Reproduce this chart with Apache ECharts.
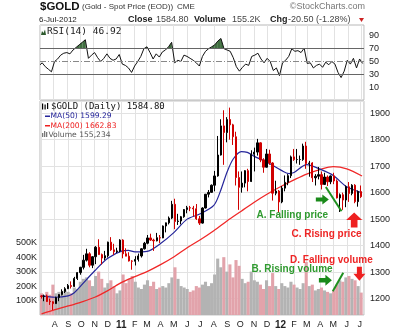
<!DOCTYPE html>
<html><head><meta charset="utf-8">
<script src="https://cdn.jsdelivr.net/npm/echarts@6/dist/echarts.min.js"></script>
<style>html,body{margin:0;padding:0;background:#fff}#c{width:400px;height:330px}</style>
</head><body><div id="c"></div>
<script>
const weeks = ['2010-07-02',
'2010-07-07','2010-07-14','2010-07-21','2010-07-28',
'2010-08-04','2010-08-11','2010-08-18','2010-08-25',
'2010-09-01','2010-09-08','2010-09-15','2010-09-22','2010-09-29',
'2010-10-06','2010-10-13','2010-10-20','2010-10-27',
'2010-11-03','2010-11-10','2010-11-17','2010-11-24',
'2010-12-01','2010-12-08','2010-12-15','2010-12-22','2010-12-29',
'2011-01-05','2011-01-12','2011-01-19','2011-01-26',
'2011-02-02','2011-02-09','2011-02-16','2011-02-23',
'2011-03-02','2011-03-09','2011-03-16','2011-03-23','2011-03-30',
'2011-04-06','2011-04-13','2011-04-20','2011-04-27',
'2011-05-04','2011-05-11','2011-05-18','2011-05-25',
'2011-06-01','2011-06-08','2011-06-15','2011-06-22','2011-06-29',
'2011-07-06','2011-07-13','2011-07-20','2011-07-27',
'2011-08-03','2011-08-10','2011-08-17','2011-08-24','2011-08-31',
'2011-09-07','2011-09-14','2011-09-21','2011-09-28',
'2011-10-05','2011-10-12','2011-10-19','2011-10-26',
'2011-11-02','2011-11-09','2011-11-16','2011-11-23','2011-11-30',
'2011-12-07','2011-12-14','2011-12-21','2011-12-28',
'2012-01-04','2012-01-11','2012-01-18','2012-01-25',
'2012-02-01','2012-02-08','2012-02-15','2012-02-22','2012-02-29',
'2012-03-07','2012-03-14','2012-03-21','2012-03-28',
'2012-04-04','2012-04-11','2012-04-18','2012-04-25',
'2012-05-02','2012-05-09','2012-05-16','2012-05-23','2012-05-30',
'2012-06-06','2012-06-13','2012-06-20','2012-06-27',
'2012-07-04'];

const opens = [1210,
1208,1210,1190,1188, 1181,1204,1215,1227, 1237,1249,1246,1276,1298, 1318,1345,1369,1326, 1358,1394,1366,1353, 1362,1413,1384,1377,1380,
1421,1369,1360,1342, 1341,1348,1361,1388, 1409,1429,1421,1418,1430, 1429,1474,1486,1504, 1556,1491,1493,1509, 1536,1543,1542,1539,1501,
1485,1542,1594,1601, 1628,1663,1742,1852,1827, 1876,1856,1811,1657, 1620,1636,1683,1642, 1745,1753,1788,1724,1696, 1746,1712,1598,1606,
1565,1617,1639,1664, 1735,1725,1725,1725,1776, 1710,1712,1656,1662, 1668,1631,1659,1641, 1663,1644,1580,1592,1572, 1622,1597,1628,1566,
1604];
const highs = [1213,
1215,1215,1200,1190, 1207,1217,1235,1243, 1255,1265,1282,1300,1320, 1365,1388,1375,1360, 1398,1424,1370,1380, 1415,1432,1407,1392,1424,
1424,1390,1375,1345, 1360,1370,1390,1414, 1440,1445,1426,1448,1440, 1476,1487,1510,1569, 1577,1520,1512,1538, 1550,1550,1550,1557,1512,
1545,1595,1610,1631, 1682,1814,1877,1911,1885, 1921,1860,1830,1680, 1680,1685,1690,1760, 1770,1803,1790,1730,1765, 1762,1715,1645,1610,
1625,1665,1670,1740, 1765,1765,1740,1785,1792, 1720,1715,1670,1697, 1680,1675,1665,1665, 1675,1650,1597,1600,1627, 1640,1632,1632,1608,
1627];
const lows = [1200,
1190,1187,1176,1157, 1180,1190,1212,1221, 1236,1238,1244,1270,1290, 1310,1340,1318,1315, 1330,1365,1329,1345, 1355,1380,1365,1372,1375,
1352,1360,1340,1309, 1325,1340,1355,1385, 1405,1418,1380,1416,1410, 1428,1450,1480,1500, 1462,1478,1480,1505, 1522,1530,1510,1497,1478,
1483,1540,1582,1600, 1605,1660,1740,1705,1790, 1800,1780,1627,1535, 1600,1620,1605,1640, 1680,1740,1715,1675,1695, 1705,1570,1590,1523,
1560,1605,1628,1655, 1720,1710,1705,1720,1690, 1660,1640,1627,1650, 1612,1630,1625,1632, 1632,1578,1527,1535,1545, 1565,1590,1560,1547,
1580];
const closes = [1208,
1210,1189,1188,1181, 1204,1215,1227,1237, 1249,1246,1276,1298,1318, 1345,1369,1326,1358, 1394,1366,1353,1362, 1413,1384,1377,1380,1421,
1369,1360,1342,1341, 1348,1361,1388,1409, 1429,1421,1418,1430,1429, 1474,1486,1504,1556, 1491,1493,1509,1536, 1543,1542,1539,1501,1485,
1542,1594,1601,1628, 1663,1742,1852,1827,1876, 1856,1811,1657,1620, 1636,1683,1642,1745, 1753,1788,1724,1696,1746, 1712,1598,1606,1565,
1617,1639,1664,1735, 1725,1725,1725,1776,1710, 1712,1656,1662,1668, 1631,1659,1641,1663, 1644,1580,1592,1572,1622, 1597,1628,1566,1604,
1584.8];
// daily volume, thousands
const volumes = [150,
130,160,140,210, 150,160,140,170, 160,150,190,180,230, 250,260,240,200, 270,300,250,190, 220,240,200,150,170,
280,220,250,270, 230,190,180,210, 240,200,230,180,190, 200,190,220,260, 330,250,200,190, 180,160,170,200,190,
210,230,200,220, 280,390,330,400,300, 350,260,380,340, 250,220,230,300, 240,230,210,180,240, 200,290,200,180,
220,200,190,230, 210,190,180,220,367, 200,210,170,180, 190,170,160,150, 170,210,240,230,260, 270,250,240,200,
155];
const rsi = [45,
48,42,38,34, 50,54,60,63, 64,62,68,72,76, 80,84,55,60, 64,56,50,55, 62,55,52,54,61,
46,44,40,33, 43,50,58,70, 73,64,54,62,57, 65,68,73,80, 48,52,50,60, 58,55,52,48,43,
58,66,70,73, 76,82,86,70,68, 66,56,42,35, 41,46,44,58, 60,63,54,48,55, 50,36,40,28,
48,52,58,70, 66,67,64,71,47, 48,40,44,46, 41,49,45,50, 46,33,25,35,52, 46,55,40,54,
46.92];

const ma50Dates = ['2010-07-02','2010-08-02','2010-09-01','2010-09-15','2010-10-01','2010-11-01','2010-12-01','2011-01-03','2011-01-17','2011-02-01','2011-03-01','2011-04-01','2011-05-02','2011-06-01','2011-07-01','2011-08-01','2011-08-15','2011-09-01','2011-09-15','2011-10-03','2011-10-17','2011-11-01','2011-12-01','2012-01-03','2012-01-20','2012-02-01','2012-03-01','2012-04-02','2012-05-01','2012-06-01','2012-07-06'];
const ma50Values = [1210,1205,1210,1222,1250,1305,1352,1380,1382,1376,1378,1408,1450,1500,1520,1552,1600,1680,1728,1755,1752,1738,1715,1684,1672,1676,1706,1688,1665,1622,1599.29];
const ma200Dates = ['2010-07-02','2010-08-02','2010-09-01','2010-10-01','2010-11-01','2010-12-01','2011-01-03','2011-02-01','2011-03-01','2011-04-01','2011-05-02','2011-06-01','2011-07-01','2011-08-01','2011-09-01','2011-10-03','2011-11-01','2011-12-01','2012-01-03','2012-02-01','2012-03-01','2012-04-02','2012-05-01','2012-06-01','2012-07-06'];
const ma200Values = [1142,1158,1172,1187,1205,1230,1262,1283,1302,1328,1358,1392,1422,1456,1494,1530,1563,1594,1624,1648,1670,1688,1698,1690,1662.83];

const monthLabels = ['A','S','O','N','D','11','F','M','A','M','J','J','A','S','O','N','D','12','F','M','A','M','J','J'];
const priceTicks = [1200,1300,1400,1500,1600,1700,1800,1900];
const rsiTicks = [10,30,50,70,90];
const volTicks = [100,200,300,400,500];

// annotations (date, value)
const priceFallLine = [['2012-04-14',1621],['2012-05-20',1530]];
const priceRiseLine = [['2012-05-15',1528],['2012-07-14',1568]];
const volRiseLine = [['2012-04-30',165],['2012-05-24',292]];
const volFallLine = [['2012-05-27',292],['2012-07-11',156]];
const greenPriceArrow = ['2012-04-06',1574];
const redPriceArrow = ['2012-06-18',1497];
const greenVolArrow = ['2012-04-13',240];
const redVolArrow = ['2012-06-30',286];

const T = s => { const p = s.split('-').map(Number); return new Date(p[0], p[1]-1, p[2]).getTime(); };
const xMin = T('2010-07-02'), xMax = T('2012-07-07');
const rsiData = weeks.map((w,i)=>[T(w), rsi[i]]);

const chart = echarts.init(document.getElementById('c'), null, {renderer:'canvas'});
const lblFont = 'Liberation Sans';
const monthFmt = v => { const d = new Date(v); if (d.getDate() !== 1) return ''; const k = (d.getFullYear()-2010)*12 + d.getMonth() - 7; const s = monthLabels[k]; if (s === undefined) return ''; return d.getMonth()===0 ? '{b|'+s+'}' : s; };
const xCommon = { type:'time', min:xMin, max:xMax, minInterval:28*864e5, maxInterval:31*864e5, splitNumber:24,
  axisTick:{show:false}, axisLine:{show:false},
  splitLine:{show:true, lineStyle:{color:'#e2e2e2', width:1}} };

const arrowRight = 'path://M0,3 L6,3 L6,0 L12,5 L6,10 L6,7 L0,7 Z';
const arrowUp = 'path://M6,0 L12,6 L8.5,6 L8.5,12 L3.5,12 L3.5,6 L0,6 Z';
const arrowDown = 'path://M3.5,0 L8.5,0 L8.5,6 L12,6 L6,12 L0,6 L3.5,6 Z';
const mlLine = pts => [{coord:[T(pts[0][0]), pts[0][1]]},{coord:[T(pts[1][0]), pts[1][1]]}];

const G = (el) => Object.assign({z:100}, el);
const txt = (x, y, text, font, fill, extra) => G({type:'text', x, y, style:Object.assign({text, font, fill, verticalAlign:'middle', textVerticalAlign:'middle'}, extra||{})});

const option = {
  animation:false,
  grid:[
    {left:40, right:36, top:25, height:75, show:true, borderColor:'#b8b8b8', borderWidth:1},
    {left:40, right:36, top:101, height:215, show:true, borderColor:'#b8b8b8', borderWidth:1}
  ],
  xAxis:[
    Object.assign({gridIndex:0, axisLabel:{show:false}}, xCommon),
    Object.assign({gridIndex:1, axisLabel:{show:true, formatter:monthFmt, color:'#222', fontFamily:lblFont, fontSize:9, margin:5,
      rich:{b:{fontWeight:'bold', fontSize:10, fontFamily:lblFont, color:'#222'}}, hideOverlap:false}}, xCommon)
  ],
  yAxis:[
    {gridIndex:0, type:'value', position:'right', min:-10, max:107, interval:20,
     axisLine:{show:false}, axisTick:{show:false}, splitLine:{show:false},
     axisLabel:{formatter:v=>rsiTicks.includes(v)?String(v):'', color:'#222', fontFamily:lblFont, fontSize:9, margin:5}},
    {gridIndex:1, type:'value', position:'right', min:1138, max:1946, splitNumber:8,
     axisLine:{show:false}, axisTick:{show:false},
     splitLine:{show:true, lineStyle:{color:'#e2e2e2'}},
     axisLabel:{formatter:v=>priceTicks.includes(v)?String(v):'', color:'#222', fontFamily:lblFont, fontSize:9, margin:6}},
    {gridIndex:1, type:'value', position:'left', min:0, max:1480, interval:100,
     axisLine:{show:false}, axisTick:{show:false}, splitLine:{show:false},
     axisLabel:{formatter:v=>volTicks.includes(v)?v+'K':'', color:'#222', fontFamily:lblFont, fontSize:9, margin:3}}
  ],
  series:[
    {type:'custom', xAxisIndex:0, yAxisIndex:0, silent:true, z:2, data:[[xMin,50]],
     renderItem:function(params, api){
       const children=[];
       for(let i=0;i<rsiData.length-1;i++){
         const t1=rsiData[i][0], v1=rsiData[i][1], t2=rsiData[i+1][0], v2=rsiData[i+1][1];
         if(v1<=70 && v2<=70) continue;
         let a=[t1,v1], b=[t2,v2];
         if(v1<70){const f=(70-v1)/(v2-v1); a=[t1+f*(t2-t1),70];}
         if(v2<70){const f=(70-v1)/(v2-v1); b=[t1+f*(t2-t1),70];}
         children.push({type:'polygon', shape:{points:[api.coord(a),api.coord(b),api.coord([b[0],70]),api.coord([a[0],70])]}, style:{fill:'#3f6e3f'}});
       }
       return {type:'group', children};
     }},
    {type:'line', xAxisIndex:0, yAxisIndex:0, data:rsiData, symbol:'none', z:3,
     lineStyle:{color:'#111', width:1},
     markLine:{silent:true, symbol:'none', label:{show:false}, data:[
       {yAxis:70, lineStyle:{color:'#666', width:1, type:'solid'}},
       {yAxis:30, lineStyle:{color:'#666', width:1, type:'solid'}},
       {yAxis:50, lineStyle:{color:'#888', width:1, type:[6,2,1,2]}}
     ]}},
    {type:'bar', xAxisIndex:1, yAxisIndex:2, barWidth:3.1, z:1,
     data:weeks.map((w,i)=>({value:[T(w), volumes[i]], itemStyle:{color: closes[i]>=opens[i] ? '#b3b3b3' : '#e2a3ab'}})),
     markLine:{silent:true, symbol:'none', label:{show:false}, data:[
       mlLine(volRiseLine), mlLine(volFallLine)
     ].map((d,k)=>{ d[0].lineStyle={color: k===0?'#1f8f1f':'#ee2020', width:2, type:'solid'}; return d; })},
     markPoint:{silent:true, label:{show:false}, data:[
       {coord:[T(greenVolArrow[0]), greenVolArrow[1]], symbol:arrowRight, symbolSize:[13,11], itemStyle:{color:'#1a8a1a'}},
       {coord:[T(redVolArrow[0]), redVolArrow[1]], symbol:arrowDown, symbolSize:[12,14], itemStyle:{color:'#ee2020'}}
     ]}},
    {type:'line', xAxisIndex:1, yAxisIndex:1, data:ma200Dates.map((d,i)=>[T(d), ma200Values[i]]), symbol:'none', smooth:0.3, z:3,
     lineStyle:{color:'#f02828', width:1.3}},
    {type:'line', xAxisIndex:1, yAxisIndex:1, data:ma50Dates.map((d,i)=>[T(d), ma50Values[i]]), symbol:'none', smooth:0.3, z:3,
     lineStyle:{color:'#25259a', width:1.2},
     markLine:{silent:true, symbol:'none', label:{show:false}, data:[
       mlLine(priceFallLine), mlLine(priceRiseLine)
     ].map((d,k)=>{ d[0].lineStyle={color: k===0?'#1f8f1f':'#ee2020', width:2, type:'solid'}; return d; })},
     markPoint:{silent:true, label:{show:false}, data:[
       {coord:[T(greenPriceArrow[0]), greenPriceArrow[1]], symbol:arrowRight, symbolSize:[13,10], itemStyle:{color:'#1a8a1a'}},
       {coord:[T(redPriceArrow[0]), redPriceArrow[1]], symbol:arrowUp, symbolSize:[16,15], itemStyle:{color:'#ee2020'}}
     ]}},
    {type:'candlestick', xAxisIndex:1, yAxisIndex:1, barWidth:1.8, z:4,
     encode:{x:0, y:[1,2,3,4]},
     data:weeks.map((w,i)=>[T(w), opens[i], closes[i], lows[i], highs[i]]),
     itemStyle:{color:'#000', color0:'#d00000', borderColor:'#000', borderColor0:'#d00000', borderWidth:1}}
  ],
  graphic:{elements:[
    txt(40, 7, '$GOLD', 'bold 11.5px "Liberation Sans"', '#111'),
    txt(82, 7, '(Gold - Spot Price (EOD))', '8px "Liberation Sans"', '#333'),
    txt(177, 7, 'CME', '8px "Liberation Sans"', '#333'),
    txt(365, 7, '©StockCharts.com', '9px "Liberation Sans"', '#777', {align:'right', textAlign:'right'}),
    txt(39, 20, '6-Jul-2012', '8px "Liberation Sans"', '#222'),
    txt(128, 20, 'Close', 'bold 9px "Liberation Sans"', '#222'),
    txt(156, 20, '1584.80', '9px "Liberation Sans"', '#444'),
    txt(194, 20, 'Volume', 'bold 9px "Liberation Sans"', '#222'),
    txt(232, 20, '155.2K', '9px "Liberation Sans"', '#444'),
    txt(270, 20, 'Chg', 'bold 9px "Liberation Sans"', '#222'),
    txt(288, 20, '-20.50 (-1.28%)', '9px "Liberation Sans"', '#444'),
    G({type:'polygon', shape:{points:[[359,18],[364,18],[361.5,22]]}, style:{fill:'#cc2222'}}),
    // RSI legend
    G({type:'polygon', shape:{points:[[41,35],[42,31],[43.5,33],[45,29.5],[46,35]]}, style:{fill:'#2d5a2d'}}),
    txt(47, 32, 'RSI(14) 46.92', '9.5px "DejaVu Sans Mono"', '#222'),
    // price legend
    G({type:'rect', shape:{x:42, y:103.5, width:1.2, height:6}, style:{fill:'#000'}}),
    G({type:'rect', shape:{x:44.5, y:104.5, width:1.2, height:5}, style:{fill:'#000'}}),
    G({type:'rect', shape:{x:47, y:103, width:1.2, height:6}, style:{fill:'#000'}}),
    txt(51, 107, '$GOLD (Daily) 1584.80', '9px "DejaVu Sans Mono"', '#111'),
    G({type:'rect', shape:{x:45, y:115.5, width:5, height:1.5}, style:{fill:'#25259a'}}),
    txt(50.5, 116.5, 'MA(50) 1599.29', '7.6px "DejaVu Sans"', '#25259a'),
    G({type:'rect', shape:{x:45, y:125, width:5, height:1.5}, style:{fill:'#ee2020'}}),
    txt(50.5, 126, 'MA(200) 1662.83', '7.6px "DejaVu Sans"', '#ee2020'),
    G({type:'rect', shape:{x:42, y:133, width:1.3, height:4}, style:{fill:'#777'}}),
    G({type:'rect', shape:{x:44, y:131, width:1.3, height:6}, style:{fill:'#777'}}),
    G({type:'rect', shape:{x:46, y:132, width:1.3, height:5}, style:{fill:'#777'}}),
    txt(48.5, 135, 'Volume 155,234', '7.6px "DejaVu Sans"', '#555'),
    // annotation texts
    txt(256.5, 215, 'A. Falling price', 'bold 10px "Liberation Sans"', '#2f9a2f'),
    txt(291.5, 234.5, 'C. Rising price', 'bold 10px "Liberation Sans"', '#ee2525'),
    txt(290, 260, 'D. Falling volume', 'bold 10px "Liberation Sans"', '#ee2525'),
    txt(251.5, 269.5, 'B. Rising volume', 'bold 10px "Liberation Sans"', '#2f9a2f')
  ]}
};
chart.setOption(option);
</script></body></html>
